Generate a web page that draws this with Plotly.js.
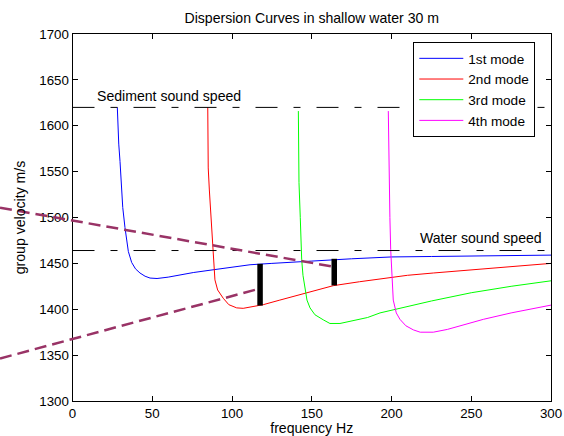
<!DOCTYPE html>
<html>
<head>
<meta charset="utf-8">
<script src="https://cdn.plot.ly/plotly-3.0.1.min.js"></script>
<style>html,body{margin:0;padding:0;background:#fff;}#chart{width:564px;height:436px;}</style>
</head>
<body>
<div id="chart"></div>
<script>
// ---- data ----
const mode1F = [28.1, 28.5, 29.0, 29.8, 30.8, 31.5, 32.9, 35.0, 37.1, 39.5, 42.3, 45.5, 48.6, 53, 60, 68, 75.7, 88.1, 100, 111.3, 125, 136.4, 150, 175, 200, 225, 250, 275, 300];
const mode1V = [1620, 1600, 1580, 1561, 1530, 1511, 1489, 1463, 1451, 1444, 1439.5, 1436, 1434, 1433.5, 1435, 1437.5, 1440, 1443, 1446, 1448.5, 1450, 1451.5, 1452.5, 1455, 1457, 1457.5, 1458, 1458.5, 1459];
const mode2F = [84.8, 85.1, 85.8, 86.6, 87.9, 88.9, 89.3, 91, 94.5, 98, 102.9, 107, 112.4, 119.6, 130, 145.8, 163.5, 180, 192.8, 210, 226.2, 250, 275, 300];
const mode2V = [1620, 1554, 1530, 1508.5, 1465, 1443, 1432, 1421, 1412, 1405, 1401.5, 1401, 1402.5, 1405, 1410, 1417.7, 1425.7, 1430, 1433, 1437, 1439.5, 1443, 1446.5, 1450];
const mode3F = [141.6, 142.0, 142.8, 143.7, 144.5, 145.8, 147, 148.9, 152, 157.2, 161.4, 167.7, 175, 185, 192.8, 205, 225, 250, 275, 300];
const mode3V = [1616, 1538, 1500, 1454, 1437, 1421, 1410, 1401.5, 1394, 1388.5, 1384.5, 1384.5, 1387, 1391, 1396, 1401, 1409, 1418, 1425, 1431];
const mode4F = [198, 198.4, 199, 199.5, 200.3, 201.1, 203, 205.3, 209, 213.7, 218, 226.2, 235, 245, 257.6, 275, 300];
const mode4V = [1616, 1533, 1500, 1465, 1435, 1410, 1396, 1389, 1382, 1377.5, 1375, 1375, 1378, 1383, 1389, 1396, 1404.5];

const modeNames = ["1st mode", "2nd mode", "3rd mode", "4th mode"];
const modeColors = ["#0000ff", "#ff0000", "#00ff00", "#ff00ff"];

const sedimentSpeed = 1620;
const waterSpeed = 1464;
const speedLineF = [0, 300];

// dashed construction lines (extend into left margin)
const lineAF = [-45.45, 162.5];
const lineAV = [1510.7, 1446.7];
const lineBF = [-45.45, 116.5];
const lineBV = [1346.3, 1422.1];

// black bars
const bar1F = [117.6, 117.6];
const bar1V = [1404, 1449.5];
const bar2F = [164.1, 164.1];
const bar2V = [1426, 1455];

const xTicks = [0, 50, 100, 150, 200, 250, 300];
const xRange = [0, 300];
const yRange = [1300, 1700];

// ---- layout geometry ----
const W = 564, H = 436;
const plotLeft = 72.5, marginR = 13, marginT = 34.3, marginB = 34.7;
const paperW = W - marginR; // margin.l = 0
const pxPerUnit = (paperW - plotLeft) / (xRange[1] - xRange[0]);
const x2min = xRange[0] - plotLeft / pxPerUnit;

const FONT = "Liberation Sans, Arial, sans-serif";
const FS = 13.3;
const FT = 14.1;

const traces = [];
const modesF = [mode1F, mode2F, mode3F, mode4F];
const modesV = [mode1V, mode2V, mode3V, mode4V];
for (let i = 0; i < 4; i++) {
  traces.push({x: modesF[i], y: modesV[i], type: 'scatter', mode: 'lines', name: modeNames[i],
    line: {color: modeColors[i], width: 1}, xaxis: 'x', yaxis: 'y'});
}
const blackDash = "22px,16px,7px,16px";
traces.push({x: speedLineF, y: [sedimentSpeed, sedimentSpeed], type: 'scatter', mode: 'lines', showlegend: false,
  line: {color: '#000', width: 1, dash: blackDash}, xaxis: 'x', yaxis: 'y'});
traces.push({x: speedLineF, y: [waterSpeed, waterSpeed], type: 'scatter', mode: 'lines', showlegend: false,
  line: {color: '#000', width: 1, dash: blackDash}, xaxis: 'x', yaxis: 'y'});
traces.push({x: bar1F, y: bar1V, type: 'scatter', mode: 'lines', showlegend: false,
  line: {color: '#000', width: 5.5}, xaxis: 'x', yaxis: 'y'});
traces.push({x: bar2F, y: bar2V, type: 'scatter', mode: 'lines', showlegend: false,
  line: {color: '#000', width: 5.5}, xaxis: 'x', yaxis: 'y'});
const purple = '#993366';
traces.push({x: lineAF, y: lineAV, type: 'scatter', mode: 'lines', showlegend: false,
  line: {color: purple, width: 2.5, dash: '12px,6px'}, xaxis: 'x2', yaxis: 'y2'});
traces.push({x: lineBF, y: lineBV, type: 'scatter', mode: 'lines', showlegend: false,
  line: {color: purple, width: 2.5, dash: '12px,6px'}, xaxis: 'x2', yaxis: 'y2'});

const axisCommon = {
  showline: true, linecolor: '#000', linewidth: 1, mirror: 'ticks',
  ticks: 'inside', ticklen: 5, tickcolor: '#000', tickwidth: 1,
  showgrid: false, zeroline: false,
  tickfont: {family: FONT, size: FS, color: '#000'}
};

const layout = {
  width: W, height: H,
  margin: {l: 0, r: marginR, t: marginT, b: marginB, pad: 0},
  paper_bgcolor: '#fff', plot_bgcolor: 'rgba(0,0,0,0)',
  font: {family: FONT, size: FS, color: '#000'},
  title: {text: 'Dispersion Curves in shallow water 30 m', font: {family: FONT, size: FT, color: '#000'},
    xref: 'container', yref: 'container', x: (plotLeft + paperW) / 2 / W, xanchor: 'center',
    y: 1 - 18 / H, yanchor: 'middle'},
  xaxis: Object.assign({}, axisCommon, {
    domain: [plotLeft / paperW, 1], range: xRange, tickvals: xTicks, anchor: 'y',
    title: {text: 'frequency Hz', font: {family: FONT, size: FT, color: '#000'}, standoff: 6}
  }),
  yaxis: Object.assign({}, axisCommon, {
    domain: [0, 1], range: yRange, dtick: 50, anchor: 'x',
    title: {text: 'group velocity m/s', font: {family: FONT, size: FT, color: '#000'}, standoff: 10}
  }),
  xaxis2: {domain: [0, 1], range: [x2min, xRange[1]], visible: false, anchor: 'y2', fixedrange: true},
  yaxis2: {domain: [0, 1], range: yRange, visible: false, anchor: 'x2', fixedrange: true},
  showlegend: true,
  legend: {x: 413.3 / paperW, y: 1 - (42.3 - marginT) / (H - marginT - marginB), xanchor: 'left', yanchor: 'top',
    bgcolor: '#fff', bordercolor: '#000', borderwidth: 1, itemwidth: 44,
    font: {family: FONT, size: 13.6, color: '#000'}, tracegroupgap: 0},
  annotations: [
    {x: 14.1, y: 1632.4, xref: 'x', yref: 'y', text: 'Sediment sound speed', showarrow: false,
      xanchor: 'left', yanchor: 'middle', font: {family: FONT, size: FT, color: '#000'}},
    {x: 216.4, y: 1478, xref: 'x', yref: 'y', text: 'Water sound speed', showarrow: false,
      xanchor: 'left', yanchor: 'middle', font: {family: FONT, size: FT, color: '#000'}}
  ]
};

Plotly.newPlot('chart', traces, layout, {displayModeBar: false, staticPlot: true});
</script>
</body>
</html>
